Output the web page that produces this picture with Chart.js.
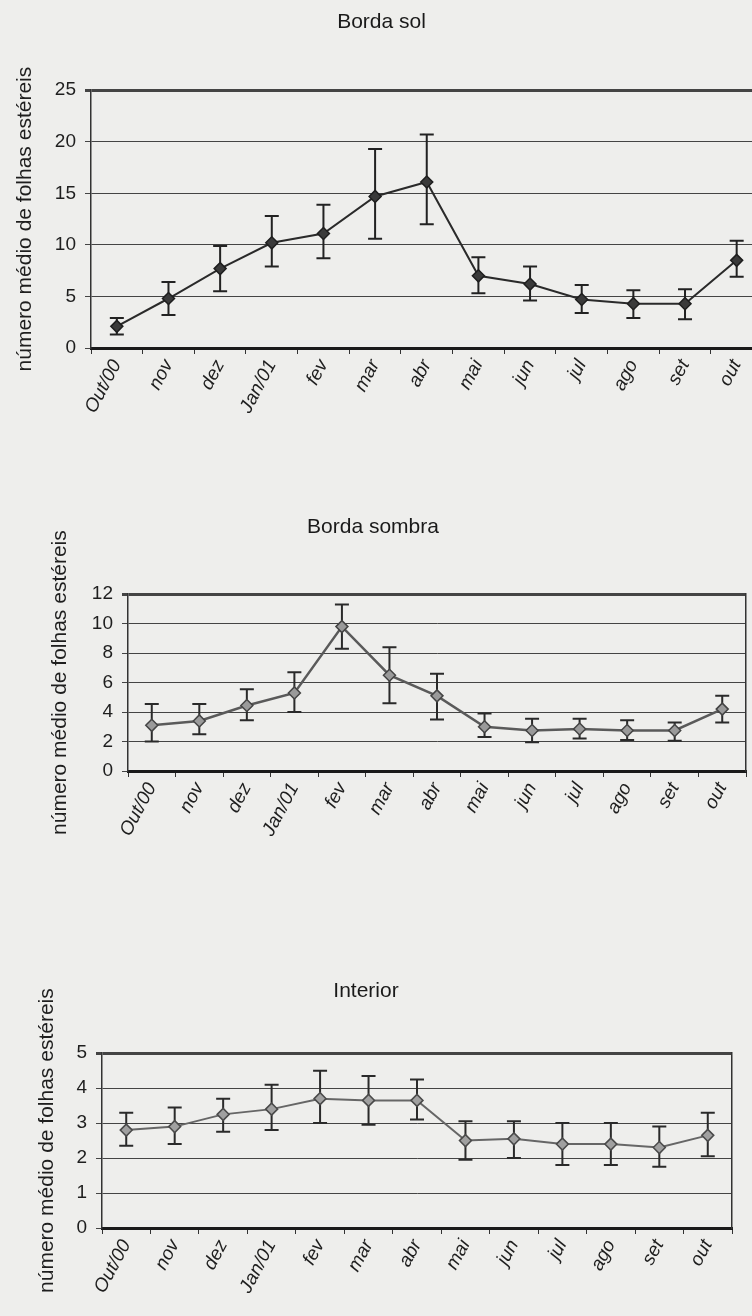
<!DOCTYPE html>
<html><head><meta charset="utf-8">
<script src="https://cdn.jsdelivr.net/npm/chart.js@4.4.0/dist/chart.umd.min.js"></script>
<style>
html,body{margin:0;padding:0;background:#eeeeec;width:752px;height:1316px;overflow:hidden;position:relative}
canvas{position:absolute;left:0}
</style></head><body>
<canvas id="c1" width="770" height="440" style="top:0px"></canvas>
<canvas id="c2" width="790" height="400" style="top:480px"></canvas>
<canvas id="c3" width="764" height="376" style="top:940px"></canvas>
<script>
const months = ['Out/00','nov','dez','Jan/01','fev','mar','abr','mai','jun','jul','ago','set','out'];
const yAxisTitle = 'número médio de folhas estéreis';

const solMean  = [2.1, 4.8, 7.7, 10.2, 11.1, 14.7, 16.1, 7.0, 6.2, 4.7, 4.3, 4.3, 8.5];
const solUpper = [2.9, 6.4, 9.9, 12.8, 13.9, 19.3, 20.7, 8.8, 7.9, 6.1, 5.6, 5.7, 10.4];
const solLower = [1.3, 3.2, 5.5, 7.9, 8.7, 10.6, 12.0, 5.3, 4.6, 3.4, 2.9, 2.8, 6.9];

const sombraMean  = [3.1, 3.4, 4.45, 5.3, 9.8, 6.5, 5.1, 3.0, 2.75, 2.85, 2.75, 2.75, 4.2];
const sombraUpper = [4.55, 4.55, 5.55, 6.7, 11.3, 8.4, 6.6, 3.9, 3.55, 3.55, 3.45, 3.3, 5.1];
const sombraLower = [2.0, 2.5, 3.45, 4.0, 8.3, 4.6, 3.5, 2.3, 1.95, 2.2, 2.1, 2.05, 3.3];

const interiorMean  = [2.8, 2.9, 3.25, 3.4, 3.7, 3.65, 3.65, 2.5, 2.55, 2.4, 2.4, 2.3, 2.65];
const interiorUpper = [3.3, 3.45, 3.7, 4.1, 4.5, 4.35, 4.25, 3.05, 3.05, 3.0, 3.0, 2.9, 3.3];
const interiorLower = [2.35, 2.4, 2.75, 2.8, 3.0, 2.95, 3.1, 1.95, 2.0, 1.8, 1.8, 1.75, 2.05];

const FONT = "'Liberation Sans', Arial, sans-serif";

const errorBars = {
  id: 'errorBars',
  beforeDatasetsDraw(chart, args, opts) {
    const meta = chart.getDatasetMeta(0);
    const ys = chart.scales.y;
    const ctx = chart.ctx;
    ctx.save();
    ctx.strokeStyle = opts.color;
    ctx.lineWidth = opts.width;
    meta.data.forEach((pt, i) => {
      const top = ys.getPixelForValue(opts.upper[i]);
      const bot = ys.getPixelForValue(opts.lower[i]);
      ctx.beginPath();
      ctx.moveTo(pt.x, top); ctx.lineTo(pt.x, bot);
      ctx.moveTo(pt.x - opts.cap, top); ctx.lineTo(pt.x + opts.cap, top);
      ctx.moveTo(pt.x - opts.cap, bot); ctx.lineTo(pt.x + opts.cap, bot);
      ctx.stroke();
    });
    ctx.restore();
  }
};

function makeChart(id, p) {
  return new Chart(document.getElementById(id), {
    type: 'line',
    data: {
      labels: months,
      datasets: [{
        data: p.mean,
        borderColor: p.lineColor,
        borderWidth: p.lineWidth,
        pointStyle: 'rectRot',
        pointRadius: 6,
        pointBackgroundColor: p.pointFill,
        pointBorderColor: p.pointBorder,
        pointBorderWidth: 1.5,
        tension: 0,
        clip: false
      }]
    },
    plugins: [errorBars],
    options: {
      responsive: false,
      animation: false,
      devicePixelRatio: 1,
      layout: { padding: { left: 0, right: p.padRight, top: 0, bottom: 0 } },
      plugins: {
        legend: { display: false },
        tooltip: { enabled: false },
        title: {
          display: true, text: p.title, color: '#1a1a1a',
          font: { family: FONT, size: 21, weight: 'normal' },
          padding: { top: p.titleTop, bottom: p.titleBottom }
        },
        errorBars: { upper: p.upper, lower: p.lower, color: p.barColor, width: 2, cap: 7 }
      },
      scales: {
        x: {
          type: 'category',
          offset: true,
          grid: { offset: true, drawOnChartArea: false, drawTicks: true, tickLength: 6, color: '#333', lineWidth: 1 },
          border: { display: true, color: '#1a1a1a', width: 3 },
          ticks: { autoSkip: false, minRotation: 62, maxRotation: 62, padding: 2, color: '#1e1e1e',
                   font: { family: FONT, size: 19, style: 'italic' } },
          afterFit: s => { s.height = p.xHeight; }
        },
        y: {
          min: 0, max: p.max,
          ticks: { stepSize: p.step, color: '#1e1e1e', padding: 9, font: { family: FONT, size: 19 } },
          grid: {
            color: '#444', tickLength: 6, drawTicks: true,
            lineWidth: c => (c.tick && c.tick.value === p.max) ? 3 : 1
          },
          border: { display: true, color: '#333', width: 1.5 },
          title: { display: true, text: yAxisTitle, color: '#1e1e1e',
                   font: { family: FONT, size: 21 }, padding: { top: p.yTitlePad, bottom: 0 } },
          afterFit: s => { s.width = p.yWidth; }
        },
        y2: {
          position: 'right', display: true,
          grid: { drawOnChartArea: false, drawTicks: false },
          ticks: { display: false },
          border: { display: true, color: '#333', width: 1.5 },
          afterFit: s => { s.width = 0; }
        }
      }
    }
  });
}

makeChart('c1', {
  title: 'Borda sol', mean: solMean, upper: solUpper, lower: solLower,
  max: 25, step: 5, yWidth: 91, xHeight: 92, padRight: 7,
  titleTop: 10, titleBottom: 55, yTitlePad: 13,
  lineColor: '#2a2a2a', lineWidth: 2, pointFill: '#3a3a3a', pointBorder: '#1e1e1e', barColor: '#222'
});
makeChart('c2', {
  title: 'Borda sombra', mean: sombraMean, upper: sombraUpper, lower: sombraLower,
  max: 12, step: 2, yWidth: 128, xHeight: 109, padRight: 44,
  titleTop: 35, titleBottom: 54, yTitlePad: 48,
  lineColor: '#5a5a5a', lineWidth: 2.5, pointFill: '#9a9a9a', pointBorder: '#444', barColor: '#2a2a2a'
});
makeChart('c3', {
  title: 'Interior', mean: interiorMean, upper: interiorUpper, lower: interiorLower,
  max: 5, step: 1, yWidth: 102, xHeight: 88, padRight: 32,
  titleTop: 39, titleBottom: 49, yTitlePad: 35,
  lineColor: '#666', lineWidth: 2, pointFill: '#a0a0a0', pointBorder: '#4a4a4a', barColor: '#2a2a2a'
});
</script>
</body></html>
